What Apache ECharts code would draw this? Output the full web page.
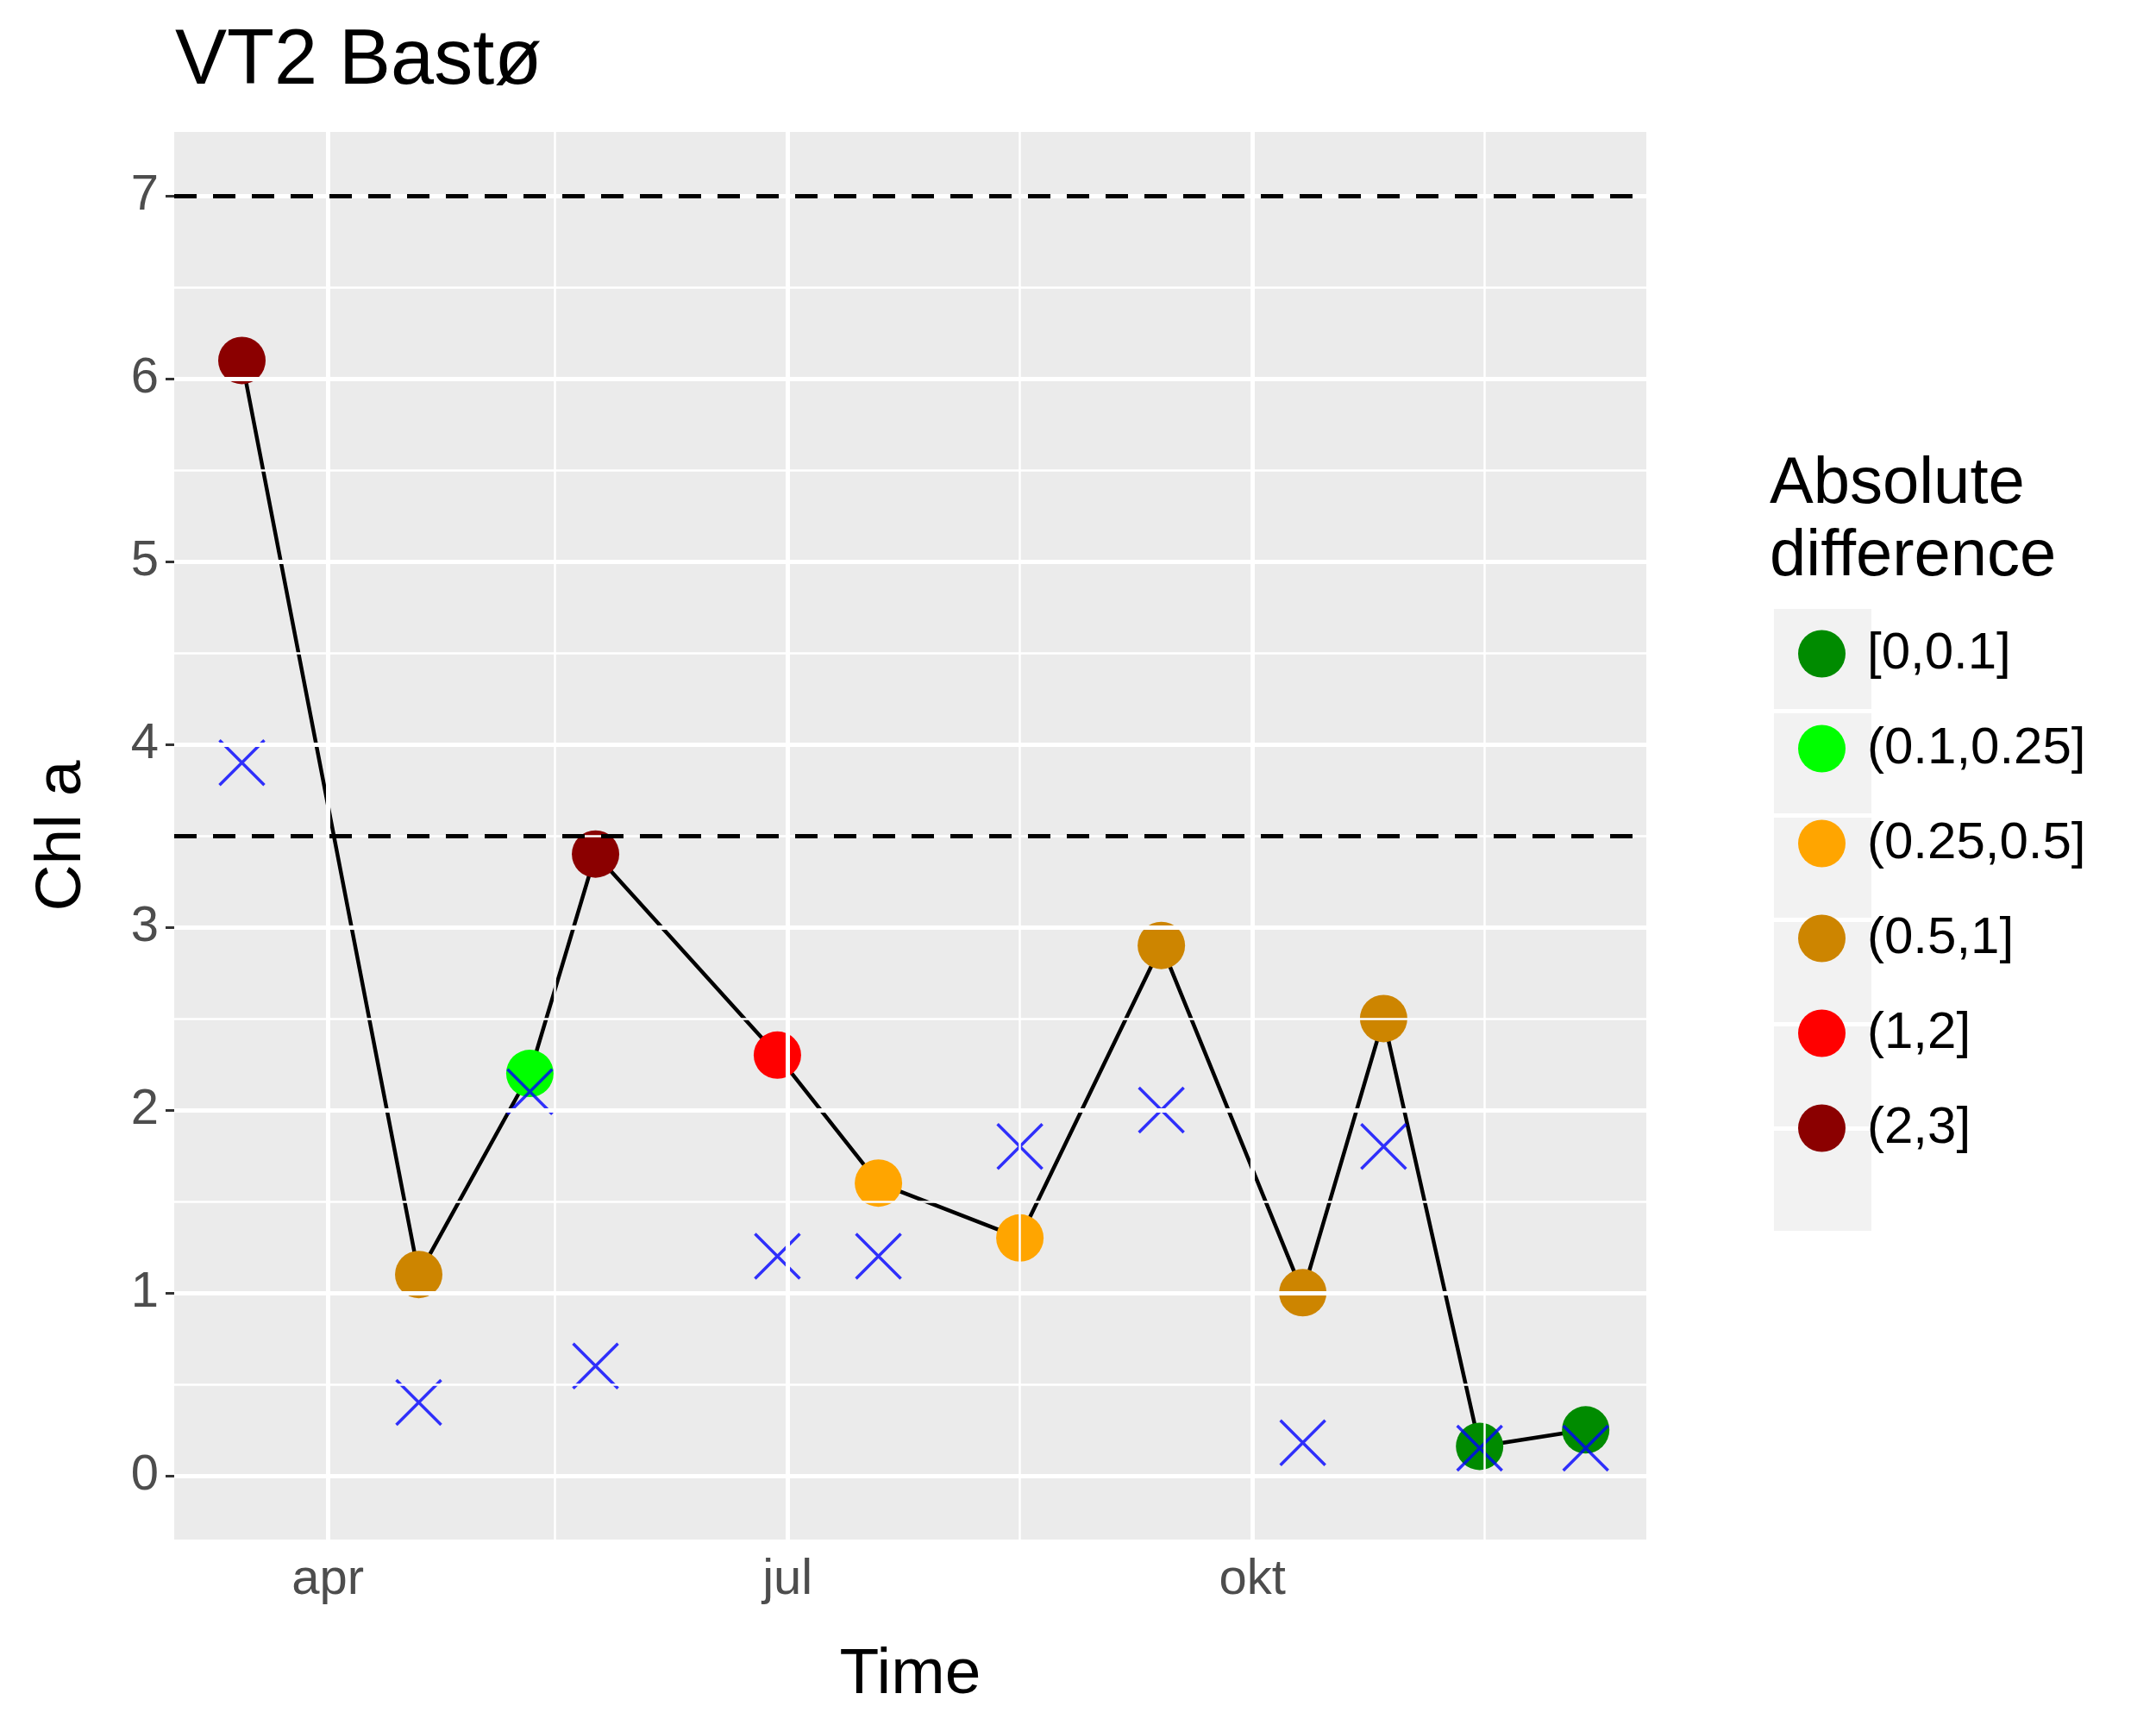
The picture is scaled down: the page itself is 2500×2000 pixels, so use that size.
<!DOCTYPE html>
<html><head><meta charset="utf-8">
<script src="https://cdn.jsdelivr.net/npm/echarts@6/dist/echarts.min.js"></script>
<style>html,body{margin:0;padding:0;background:#fff}#c{width:2500px;height:2000px}</style>
</head><body><div id="c"></div>
<script>
// day of year (2017, Jan 1 = 0)
var days = [73, 108, 130, 143, 179, 199, 227, 255, 283, 299, 318, 339];
var chl = [6.1, 1.1, 2.2, 3.4, 2.3, 1.6, 1.3, 2.9, 1.0, 2.5, 0.16, 0.25];
var obs = [3.9, 0.4, 2.1, 0.6, 1.2, 1.2, 1.8, 2.0, 0.18, 1.8, 0.15, 0.15];
var cls = [5, 3, 1, 5, 4, 2, 2, 3, 3, 3, 0, 0];
var classNames = ['[0,0.1]', '(0.1,0.25]', '(0.25,0.5]', '(0.5,1]', '(1,2]', '(2,3]'];
var classColors = ['#008B00', '#00FF00', '#FFA500', '#CD8500', '#FF0000', '#8B0000'];
var monthTicks = [90, 181, 273];
var monthLabels = {90: 'apr', 181: 'jul', 273: 'okt'};
var minorX = [135, 227, 319];
var yTicks = [0, 1, 2, 3, 4, 5, 6, 7];
var limits = [3.5, 7];

var chart = echarts.init(document.getElementById('c'));

var gridLines = [];
monthTicks.forEach(function (d) { gridLines.push({xAxis: d, lineStyle: {color: '#fff', width: 5, type: 'solid'}}); });
minorX.forEach(function (d) { gridLines.push({xAxis: d, lineStyle: {color: '#fff', width: 2.5, type: 'solid'}}); });
yTicks.forEach(function (v) { gridLines.push({yAxis: v, lineStyle: {color: '#fff', width: 5, type: 'solid'}}); });
yTicks.forEach(function (v) { gridLines.push({yAxis: v + 0.5, lineStyle: {color: '#fff', width: 2.5, type: 'solid'}}); });

var series = [{
    type: 'line', data: [], z: 0, silent: true,
    markLine: {symbol: 'none', silent: true, label: {show: false}, animation: false, data: gridLines}
}, {
    type: 'line', z: 2, symbol: 'none',
    data: days.map(function (d, i) { return [d, chl[i]]; }),
    lineStyle: {color: '#000', width: 4.5},
    markLine: {symbol: 'none', silent: true, label: {show: false}, animation: false,
        data: limits.map(function (v) { return {yAxis: v, lineStyle: {color: '#000', width: 5, type: [26, 19]}}; })}
}];
classNames.forEach(function (name, k) {
    series.push({
        name: name, type: 'scatter', z: 3, symbolSize: 55,
        itemStyle: {color: classColors[k], opacity: 1},
        data: days.map(function (d, i) { return [d, chl[i]]; }).filter(function (p, i) { return cls[i] === k; })
    });
});
series.push({
    type: 'scatter', z: 4, symbol: 'path://M0,0L10,10M10,0L0,10', symbolSize: 52,
    itemStyle: {color: 'none', borderColor: '#0000FF', borderWidth: 3.5},
    data: days.map(function (d, i) { return [d, obs[i]]; })
});

var keyRects = classNames.map(function (n, i) {
    return {type: 'rect', shape: {x: 2057, y: 706 + i * 121, width: 113, height: 116},
        style: {fill: '#F2F2F2'}, z: -1};
});

chart.setOption({
    animation: false,
    backgroundColor: '#fff',
    title: {text: 'VT2 Bastø', left: 198, top: 22,
        textStyle: {fontSize: 90, fontWeight: 'normal', color: '#000', fontFamily: 'Arial'}},
    grid: {left: 202, right: 591, top: 153, bottom: 215, show: true, backgroundColor: '#EBEBEB', borderWidth: 0},
    xAxis: {
        type: 'value', min: 59.6, max: 351, name: 'Time', nameLocation: 'middle', nameGap: 120,
        nameTextStyle: {fontSize: 75, color: '#000', fontFamily: 'Arial'},
        axisLine: {show: false}, splitLine: {show: false},
        axisTick: {show: true, customValues: monthTicks, length: 10, lineStyle: {color: '#333', width: 3}},
        axisLabel: {customValues: monthTicks, fontSize: 58, color: '#4D4D4D', margin: 18, fontFamily: 'Arial',
            formatter: function (v) { return monthLabels[v] || ''; }}
    },
    yAxis: {
        type: 'value', min: -0.35, max: 7.35, name: 'Chl a', nameLocation: 'middle', nameGap: 92,
        nameTextStyle: {fontSize: 75, color: '#000', fontFamily: 'Arial'},
        axisLine: {show: false}, splitLine: {show: false},
        axisTick: {show: true, customValues: yTicks, length: 10, lineStyle: {color: '#333', width: 3}},
        axisLabel: {customValues: yTicks, fontSize: 58, color: '#4D4D4D', margin: 18, fontFamily: 'Arial'}
    },
    legend: {
        data: classNames, orient: 'vertical', left: 2085, top: 728, itemWidth: 55, itemHeight: 55, itemGap: 50,
        icon: 'circle', selectedMode: false, padding: 0,
        textStyle: {fontSize: 60, color: '#000', fontFamily: 'Arial', padding: [0, 0, 0, 20]}
    },
    graphic: [{type: 'group', left: 2057, top: 706, children: keyRects.map(function (r) {
            return {type: 'rect', shape: {x: r.shape.x - 2057, y: r.shape.y - 706, width: 113, height: 116}, style: r.style};
        })}].concat([{
        type: 'text', left: 2052, top: 520, z: 5,
        style: {text: 'Absolute\ndifference', fontSize: 76, fill: '#000', fontFamily: 'Arial', lineHeight: 84}
    }]),
    series: series
});
</script></body></html>
